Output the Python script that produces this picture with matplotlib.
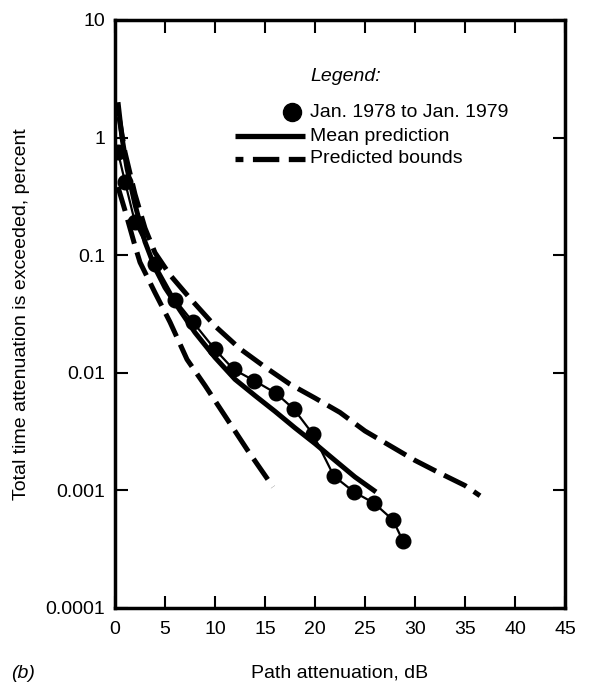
import numpy as np
import matplotlib
matplotlib.use("Agg")
import matplotlib.pyplot as plt
from matplotlib.ticker import FixedLocator, FixedFormatter, NullLocator

plt.rcParams["font.family"] = ["Liberation Sans", "DejaVu Sans"]

# ------------------------ DATA ------------------------
# measured, Jan. 1978 to Jan. 1979
meas_db = [0.3, 1.0, 2.0, 4.0, 6.0, 7.8, 10.0, 11.85, 13.9, 16.1, 17.9, 19.8,
           21.9, 23.9, 25.9, 27.8, 28.8]
meas_pct = [0.75, 0.42, 0.19, 0.085, 0.042, 0.027, 0.0158, 0.0107, 0.0086,
            0.0067, 0.0049, 0.0030, 0.00132, 0.00097, 0.00078, 0.00056, 0.00037]

# mean prediction
mean_db = [0.3, 0.7, 1.2, 2.0, 3.0, 4.0, 5.0, 6.5, 8.0, 10.0, 12.0, 14.0,
           16.0, 18.0, 20.0, 22.0, 24.0, 26.1]
mean_pct = [2.0, 1.0, 0.55, 0.27, 0.13, 0.078, 0.053, 0.034, 0.022, 0.0135,
            0.0088, 0.0064, 0.0047, 0.0034, 0.0025, 0.0018, 0.0013, 0.00097]

# predicted bounds
upper_db = [0.4, 1.0, 2.0, 3.0, 4.0, 5.5, 7.5, 10.0, 12.5, 15.0, 17.5, 20.0,
            22.5, 25.0, 27.5, 30.0, 32.5, 35.0, 36.5]
upper_pct = [1.5, 0.75, 0.33, 0.17, 0.105, 0.068, 0.043, 0.025, 0.016, 0.0112,
             0.0080, 0.0061, 0.0046, 0.0032, 0.0024, 0.0018, 0.0014, 0.0011, 0.0009]
lower_db = [0.3, 1.0, 2.0, 2.5, 4.0, 5.5, 7.2, 9.0, 11.0, 13.25, 15.8]
lower_pct = [0.38, 0.24, 0.12, 0.087, 0.048, 0.027, 0.013, 0.0078, 0.0043,
             0.0022, 0.00107]

x_ticks = [0, 5, 10, 15, 20, 25, 30, 35, 40, 45]
y_ticks = [0.0001, 0.001, 0.01, 0.1, 1, 10]
y_labels = ["0.0001", "0.001", "0.01", "0.1", "1", "10"]

# ------------------------ PLOT ------------------------
W, H = 592, 688
FS = 14
DASH = (0, (5.0, 1.8))
fig = plt.figure(figsize=(W / 100, H / 100), dpi=100)
ax = fig.add_axes([115 / W, 1 - 608 / H, 450 / W, 588 / H])

ax.plot(upper_db, upper_pct, color="black", lw=3.6, ls=DASH, dash_capstyle="butt")
ax.plot(lower_db, lower_pct, color="black", lw=3.6, ls=DASH, dash_capstyle="butt")
ax.plot(mean_db, mean_pct, color="black", lw=3.6, solid_capstyle="butt")
ax.plot(meas_db, meas_pct, color="black", lw=1.6, marker="o", ms=10.5,
        markerfacecolor="black", markeredgecolor="black")

ax.set_yscale("log")
ax.set_xlim(0, 45)
ax.set_ylim(0.0001, 10)
ax.xaxis.set_major_locator(FixedLocator(x_ticks))
ax.yaxis.set_major_locator(FixedLocator(y_ticks))
ax.yaxis.set_major_formatter(FixedFormatter(y_labels))
ax.yaxis.set_minor_locator(NullLocator())
ax.tick_params(which="major", direction="in", length=9, width=1.5,
               top=True, right=True, labelsize=FS)
ax.tick_params(axis="x", pad=9)
ax.tick_params(axis="y", pad=7)
for sp in ax.spines.values():
    sp.set_linewidth(2.5)

# legend block
ax.text(19.5, 3.3, "Legend:", fontsize=FS, style="italic", ha="left", va="center")
lx0, lx1, tx = 12.0, 19.0, 19.5
ax.plot([17.7], [1.65], marker="o", ms=13, color="black")
ax.text(tx, 1.65, "Jan. 1978 to Jan. 1979", fontsize=FS, ha="left", va="center")
ax.plot([lx0, lx1], [1.03, 1.03], color="black", lw=3.8, solid_capstyle="butt")
ax.text(tx, 1.03, "Mean prediction", fontsize=FS, ha="left", va="center")
ax.plot([lx0, lx1], [0.66, 0.66], color="black", lw=3.8, ls=(3.5, (5.0, 1.8)),
        dash_capstyle="butt")
ax.text(tx, 0.66, "Predicted bounds", fontsize=FS, ha="left", va="center")

fig.text(22 / W, 1 - 314 / H, "Total time attenuation is exceeded, percent",
         fontsize=FS, rotation=90, ha="center", va="center")
fig.text(340 / W, 1 - 673 / H, "Path attenuation, dB",
         fontsize=FS, ha="center", va="center")
fig.text(11 / W, 1 - 673 / H, "(b)", fontsize=FS, style="italic",
         ha="left", va="center")

fig.savefig("out.png", dpi=100)
